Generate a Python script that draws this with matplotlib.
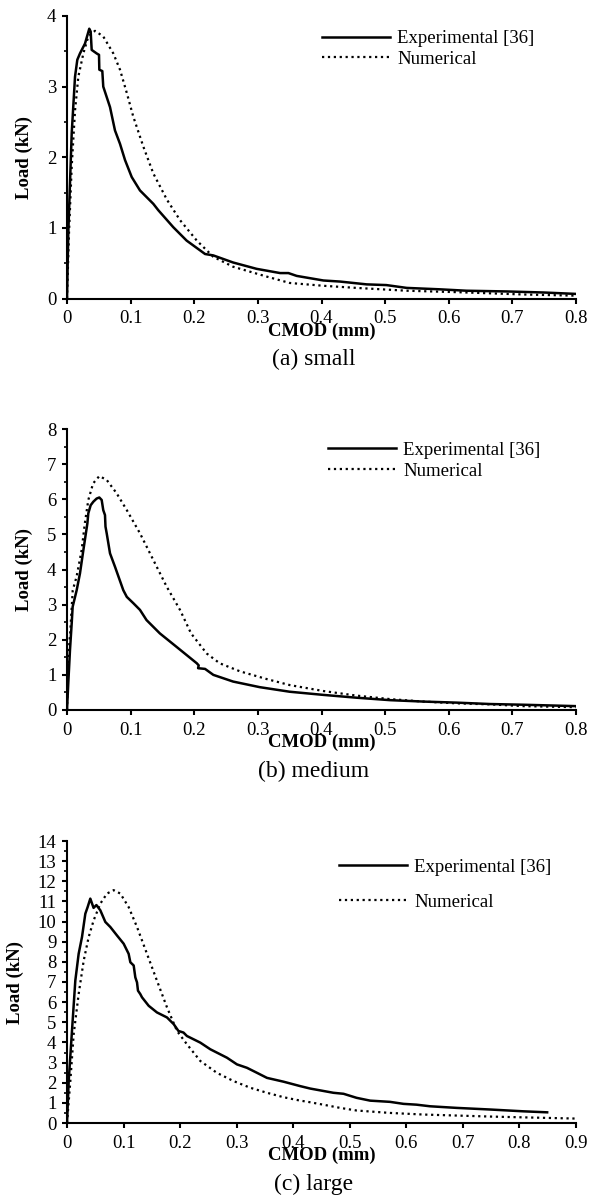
import matplotlib
matplotlib.use("Agg")
import matplotlib.pyplot as plt
from matplotlib.ticker import MultipleLocator

plt.rcParams['font.family'] = ['Liberation Serif', 'DejaVu Serif']

# ---------------- data ----------------
exp_a_x = [0, 0.002, 0.0074, 0.0126, 0.0162, 0.0204, 0.0283, 0.035, 0.0372, 0.0388, 0.0466,
           0.0503, 0.0508, 0.0555, 0.057, 0.0676, 0.0754, 0.0833, 0.0912, 0.1017, 0.1147, 0.1357,
           0.1435, 0.167, 0.188, 0.217, 0.23, 0.261, 0.298, 0.335, 0.348, 0.361, 0.403, 0.429,
           0.471, 0.502, 0.534, 0.586, 0.628, 0.691, 0.749, 0.8]
exp_a_y = [0, 0.92, 2.34, 3.14, 3.38, 3.47, 3.61, 3.82, 3.78, 3.52, 3.47,
           3.45, 3.24, 3.22, 3.00, 2.71, 2.38, 2.19, 1.96, 1.72, 1.53, 1.34,
           1.25, 1.01, 0.82, 0.63, 0.61, 0.51, 0.42, 0.36, 0.36, 0.32, 0.255, 0.24,
           0.20, 0.19, 0.15, 0.13, 0.11, 0.10, 0.085, 0.065]
num_a_x = [0, 0.0031, 0.0074, 0.0126, 0.0178, 0.0257, 0.0335, 0.044, 0.057, 0.0728, 0.0833,
           0.094, 0.104, 0.12, 0.1357, 0.157, 0.1776, 0.204, 0.23, 0.261, 0.314, 0.35, 0.403,
           0.455, 0.534, 0.612, 0.717, 0.8]
num_a_y = [0, 0.92, 1.87, 2.66, 3.14, 3.47, 3.71, 3.79, 3.71, 3.47, 3.24,
           2.91, 2.58, 2.15, 1.77, 1.40, 1.11, 0.82, 0.59, 0.45, 0.31, 0.22, 0.18,
           0.15, 0.11, 0.09, 0.057, 0.04]

exp_b_x = [0, 0.002, 0.0047, 0.0074, 0.0089, 0.0152, 0.0204, 0.0257, 0.032, 0.0335, 0.0372,
           0.0414, 0.0466, 0.0508, 0.0545, 0.057, 0.0597, 0.0605, 0.0624, 0.0676, 0.0754,
           0.0885, 0.094, 0.1043, 0.1147, 0.125, 0.146, 0.172, 0.204, 0.207, 0.206, 0.217,
           0.23, 0.261, 0.303, 0.35, 0.403, 0.455, 0.508, 0.56, 0.612, 0.665, 0.717, 0.8]
exp_b_y = [0, 0.76, 1.71, 2.47, 2.94, 3.41, 3.89, 4.55, 5.31, 5.6, 5.83,
           5.93, 6.02, 6.05, 5.98, 5.69, 5.55, 5.22, 5.03, 4.46, 4.08,
           3.41, 3.22, 3.04, 2.85, 2.56, 2.18, 1.80, 1.33, 1.27, 1.19, 1.17,
           1.0, 0.81, 0.65, 0.52, 0.43, 0.35, 0.28, 0.24, 0.21, 0.17, 0.15, 0.11]
num_b_x = [0, 0.002, 0.005, 0.009, 0.015, 0.023, 0.028, 0.0335, 0.041, 0.0508, 0.0624,
           0.078, 0.094, 0.1147, 0.1357, 0.1567, 0.1776, 0.195, 0.2195, 0.24, 0.272, 0.314,
           0.35, 0.403, 0.455, 0.508, 0.56, 0.612, 0.665, 0.717, 0.8]
num_b_y = [0, 1.52, 2.19, 3.41, 3.79, 4.55, 5.31, 5.98, 6.45, 6.66, 6.55,
           6.17, 5.69, 5.03, 4.27, 3.51, 2.85, 2.18, 1.61, 1.33, 1.10, 0.88,
           0.71, 0.54, 0.41, 0.31, 0.24, 0.19, 0.16, 0.11, 0.08]

exp_c_x = [0, 0.003, 0.0088, 0.0147, 0.0206, 0.0265, 0.0324, 0.0365, 0.0412, 0.047, 0.052,
           0.0589, 0.0678, 0.0766, 0.0884, 0.1002, 0.109, 0.112, 0.1179, 0.1208, 0.1238,
           0.1255, 0.1296, 0.1326, 0.1444, 0.159, 0.1768, 0.1886, 0.197, 0.206, 0.212,
           0.2357, 0.2534, 0.2829, 0.3005, 0.3182, 0.336, 0.3536, 0.383, 0.4125, 0.43,
           0.471, 0.489, 0.512, 0.536, 0.571, 0.595, 0.618, 0.642, 0.689, 0.748, 0.807, 0.849]
exp_c_y = [0, 2.08, 4.57, 7.07, 8.40, 9.23, 10.39, 10.72, 11.14, 10.68, 10.82,
           10.56, 9.98, 9.73, 9.31, 8.90, 8.40, 7.98, 7.82, 7.23, 6.98,
           6.57, 6.40, 6.24, 5.82, 5.49, 5.24, 4.91, 4.57, 4.49, 4.32,
           3.99, 3.66, 3.24, 2.91, 2.74, 2.49, 2.24, 2.05, 1.83, 1.71,
           1.50, 1.45, 1.25, 1.11, 1.05, 0.95, 0.91, 0.83, 0.75, 0.67, 0.58, 0.53]
num_c_x = [0, 0.0059, 0.0118, 0.0206, 0.0295, 0.0383, 0.0471, 0.0589, 0.0707, 0.0825, 0.0943,
           0.109, 0.1238, 0.1414, 0.159, 0.1768, 0.1945, 0.212, 0.2357, 0.265, 0.2946, 0.324,
           0.3536, 0.383, 0.4125, 0.424, 0.453, 0.483, 0.512, 0.571, 0.63, 0.689, 0.748, 0.807, 0.9]
num_c_y = [0, 2.08, 4.41, 6.40, 8.06, 9.23, 10.06, 10.89, 11.39, 11.56, 11.39,
           10.72, 9.73, 8.40, 7.07, 5.74, 4.57, 3.91, 3.08, 2.49, 2.08, 1.75,
           1.50, 1.28, 1.11, 1.06, 0.91, 0.75, 0.62, 0.50, 0.42, 0.37, 0.32, 0.28, 0.22]

series_labels = ["Experimental [36]", "Numerical"]
captions = ["(a) small", "(b) medium", "(c) large"]
x_label = "CMOD (mm)"
y_label = "Load (kN)"
x_limits = [0.8, 0.8, 0.9]
y_limits = [4, 8, 14]

# ---------------- layout ----------------
W, H = 595, 1203
fig = plt.figure(figsize=(W / 100, H / 100), dpi=100)

panels = [
    dict(top=16, bottom=298.5, exp=(exp_a_x, exp_a_y), num=(num_a_x, num_a_y),
         leg=(322, 49, 0.2), ylab_x=33),
    dict(top=429, bottom=710, exp=(exp_b_x, exp_b_y), num=(num_b_x, num_b_y),
         leg=(328, 460.5, 0.2), ylab_x=33),
    dict(top=841, bottom=1123, exp=(exp_c_x, exp_c_y), num=(num_c_x, num_c_y),
         leg=(339, 884.5, 0.95), ylab_x=24),
]

L, R = 67, 576
FS = 13.5
for i, p in enumerate(panels):
    ax = fig.add_axes([L / W, 1 - p['bottom'] / H, (R - L) / W, (p['bottom'] - p['top']) / H])
    ex, ey = p['exp']
    nx, ny = p['num']
    ax.plot(ex, ey, color='black', lw=1.8, solid_joinstyle='round', label=series_labels[0])
    ax.plot(nx, ny, color='black', lw=1.6, linestyle=(0, (1, 1.65)), label=series_labels[1])
    ax.set_xlim(0, x_limits[i])
    ax.set_ylim(0, y_limits[i])
    ax.xaxis.set_major_locator(MultipleLocator(0.1))
    ax.yaxis.set_major_locator(MultipleLocator(1))
    ax.yaxis.set_minor_locator(MultipleLocator(0.5))
    ax.xaxis.set_major_formatter(plt.FuncFormatter(lambda v, pos: "0" if abs(v) < 1e-9 else f"{v:.1f}"))
    for s in ['top', 'right']:
        ax.spines[s].set_visible(False)
    for s in ['left', 'bottom']:
        ax.spines[s].set_linewidth(1.5)
    ax.tick_params(which='major', direction='out', length=3.6, width=1.5, labelsize=FS, pad=4)
    ax.tick_params(axis='x', which='major', pad=5)
    ax.tick_params(which='minor', direction='out', length=2.5, width=1.2)
    ax.tick_params(axis='x', which='minor', length=0)
    ax.set_xlabel(x_label, fontsize=FS, fontweight='bold')
    ax.xaxis.set_label_coords(0.5, -24 / (p['bottom'] - p['top']))
    ax.set_ylabel(y_label, fontsize=FS, fontweight='bold')
    ax.yaxis.set_label_coords((p['ylab_x'] - L) / (R - L), 0.5)
    lx, ly, lsp = p['leg']
    ax.legend(loc='center left', bbox_to_anchor=(lx / W, 1 - ly / H),
              bbox_transform=fig.transFigure, frameon=False, fontsize=FS,
              handlelength=3.63, handletextpad=0.37, borderpad=0, borderaxespad=0,
              labelspacing=lsp)
    fig.text(314 / W, 1 - (p['bottom'] + 61) / H, captions[i], fontsize=17,
             ha='center', va='center')

fig.savefig("out.png", dpi=100)
